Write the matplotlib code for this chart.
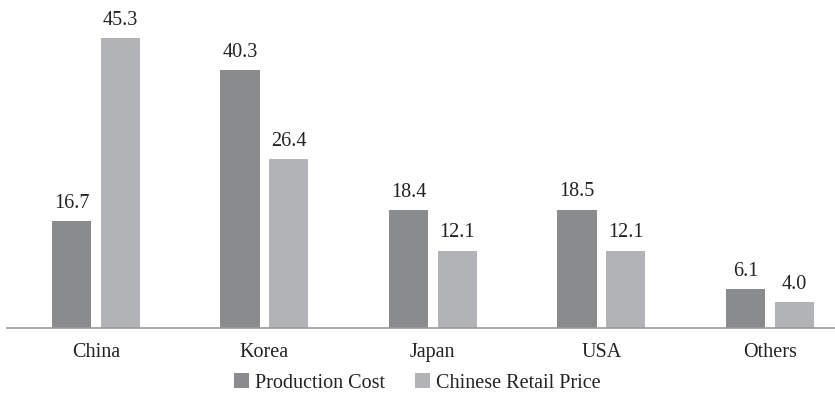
import matplotlib.pyplot as plt
import numpy as np

plt.rcParams['font.family'] = ['Liberation Serif', 'DejaVu Serif']

categories = ["China", "Korea", "Japan", "USA", "Others"]
production_cost = [16.7, 40.3, 18.4, 18.5, 6.1]
retail_price = [45.3, 26.4, 12.1, 12.1, 4.0]

dark = "#8a8b8d"
light = "#b1b3b6"

fig = plt.figure(figsize=(8.35, 3.97), dpi=100)
ax = fig.add_axes([0.0084, 0.1738, 0.9916, 0.8262])

x = np.arange(len(categories))
w = 0.232
off = 0.144
b1 = ax.bar(x - off, production_cost, w, color=dark, label="Production Cost")
b2 = ax.bar(x + off, retail_price, w, color=light, label="Chinese Retail Price")

for bars, vals in ((b1, production_cost), (b2, retail_price)):
    for bar, v in zip(bars, vals):
        ax.annotate("{:.1f}".format(v), (bar.get_x() + bar.get_width() / 2, v),
                    xytext=(0, 6), textcoords="offset points",
                    ha="center", va="bottom", fontsize=14.5, color="#222222")

ax.set_xlim(-0.527, 4.387)
ax.set_ylim(0, 51.3)
ax.set_xticks(x)
ax.set_xticklabels(categories, fontsize=14.5, color="#222222")
ax.tick_params(axis="x", length=0, pad=11)
ax.set_yticks([])
for s in ("top", "right", "left"):
    ax.spines[s].set_visible(False)
ax.spines["bottom"].set_color("#999999")
ax.spines["bottom"].set_linewidth(1.2)

fig.legend(handles=[b1, b2], loc="center", bbox_to_anchor=(0.5, 0.035),
           ncol=2, frameon=False, fontsize=14.5, handlelength=0.75, handleheight=0.75,
           handletextpad=0.3, columnspacing=1.5, labelcolor="#222222")

fig.savefig("out.png", dpi=100)
